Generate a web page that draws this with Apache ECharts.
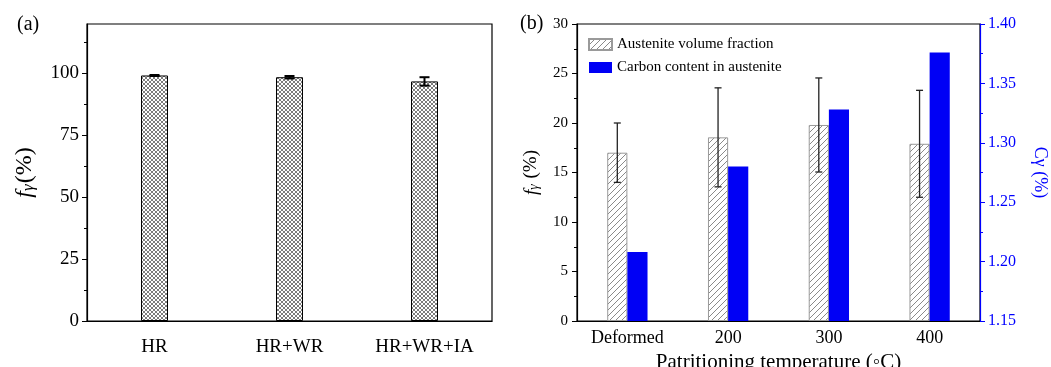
<!DOCTYPE html>
<html>
<head>
<meta charset="utf-8">
<script src="https://cdn.jsdelivr.net/npm/echarts@6/dist/echarts.min.js"></script>
<style>
  html, body { margin: 0; padding: 0; background: #fff; }
  #chart { width: 1051px; height: 367px; }
</style>
</head>
<body>
<div id="chart"></div>
<script>
// panel (a)
const routesA = ["HR", "HR+WR", "HR+WR+IA"];
const fractionA = [99.2, 98.5, 96.8];
const fractionErrA = [0.2, 0.5, 1.7];
const yTicksA = [0, 25, 50, 75, 100];
const yMinorTicksA = [12.5, 37.5, 62.5, 87.5, 112.5];

// panel (b)
const temps = ["Deformed", "200", "300", "400"];
const fractionB = [17.0, 18.55, 19.8, 17.9];
const fractionErrB = [3.0, 5.0, 4.75, 5.4];
const carbonB = [1.208, 1.280, 1.328, 1.376];

const serif = '"Liberation Serif", "Times New Roman", serif';
const blue = "#0000ff";

function crossHatch() {
    const c = document.createElement("canvas");
    c.width = 4; c.height = 4;
    const g = c.getContext("2d");
    g.fillStyle = "#fff";
    g.fillRect(0, 0, 4, 4);
    g.strokeStyle = "#6e6e6e";
    g.lineWidth = 0.9;
    g.beginPath();
    g.moveTo(0, 0); g.lineTo(4, 4);
    g.moveTo(4, 0); g.lineTo(0, 4);
    g.stroke();
    return c;
}

function diagHatch() {
    const c = document.createElement("canvas");
    c.width = 6; c.height = 6;
    const g = c.getContext("2d");
    g.fillStyle = "#fff";
    g.fillRect(0, 0, 6, 6);
    g.strokeStyle = "#8a8a8a";
    g.lineWidth = 1;
    g.beginPath();
    g.moveTo(0, 6); g.lineTo(6, 0);
    g.moveTo(-1, 1); g.lineTo(1, -1);
    g.moveTo(5, 7); g.lineTo(7, 5);
    g.stroke();
    return c;
}

// error bar drawn through the axes; shift is fraction of band width
function errorBar(shift, capHalf, width, color) {
    return function (params, api) {
        const i = api.value(0), v = api.value(1), e = api.value(2);
        const dx = api.size([1, 0])[0] * shift;
        const hi = api.coord([i, v + e]);
        const lo = api.coord([i, v - e]);
        const x = hi[0] + dx;
        const style = { stroke: color, lineWidth: width };
        return {
            type: "group",
            children: [
                { type: "line", shape: { x1: x, y1: hi[1], x2: x, y2: lo[1] }, style },
                { type: "line", shape: { x1: x - capHalf, y1: hi[1], x2: x + capHalf, y2: hi[1] }, style },
                { type: "line", shape: { x1: x - capHalf, y1: lo[1], x2: x + capHalf, y2: lo[1] }, style }
            ]
        };
    };
}

const chart = echarts.init(document.getElementById("chart"));

const catAxis = (gridIndex, data, extra) => Object.assign({
    type: "category",
    gridIndex,
    data,
    axisLine: { lineStyle: { color: "#000", width: 1.2 } },
    splitLine: { show: false }
}, extra);

const option = {
    backgroundColor: "#fff",
    animation: false,
    textStyle: { fontFamily: serif },
    graphic: [
        { type: "text", left: 17, top: 15, style: { text: "(a)", font: "20px " + serif, fill: "#000" } },
        { type: "text", left: 520, top: 14, style: { text: "(b)", font: "20px " + serif, fill: "#000" } }
    ],
    grid: [
        { left: 87, top: 24, width: 405, height: 297, show: true, borderColor: "#000", borderWidth: 1.2, backgroundColor: "transparent", outerBoundsMode: "none" },
        { left: 577, top: 24, width: 403, height: 297, show: true, borderColor: "#000", borderWidth: 1.2, backgroundColor: "transparent", outerBoundsMode: "none" }
    ],
    legend: {
        orient: "vertical",
        left: 583,
        top: 32,
        itemWidth: 23,
        itemHeight: 11,
        itemGap: 8,
        icon: "rect",
        data: ["Austenite volume fraction", "Carbon content in austenite"],
        textStyle: { fontFamily: serif, fontSize: 15, color: "#000" }
    },
    xAxis: [
        catAxis(0, routesA, {
            position: "bottom",
            axisTick: { alignWithLabel: true, length: 5, lineStyle: { color: "#000" } },
            axisLabel: { fontFamily: serif, fontSize: 19, color: "#000", margin: 17 }
        }),
        catAxis(1, temps, {
            position: "bottom",
            axisTick: { alignWithLabel: true, length: 5, lineStyle: { color: "#000" } },
            axisLabel: { fontFamily: serif, fontSize: 18, color: "#000", margin: 8 },
            name: "Patritioning temperature (\u25E6C)",
            nameLocation: "middle",
            nameGap: 20,
            nameTextStyle: { fontFamily: serif, fontSize: 21, color: "#000" }
        }),
        catAxis(1, temps, {
            position: "bottom",
            axisLine: { show: false },
            axisTick: { length: 3, lineStyle: { color: "#000" } },
            axisLabel: { show: false }
        }),
        catAxis(1, temps, {
            position: "top",
            axisLine: { show: false },
            axisTick: { inside: true, alignWithLabel: true, length: 6, lineStyle: { color: "#000" } },
            axisLabel: { show: false }
        }),
        catAxis(1, temps, {
            position: "top",
            axisLine: { show: false },
            axisTick: { inside: true, length: 3, lineStyle: { color: "#000" } },
            axisLabel: { show: false }
        })
    ],
    yAxis: [
        {
            type: "value", gridIndex: 0, position: "left", min: 0, max: 120, interval: 25,
            name: "{i|f}{s|\u03B3}{n|(%)}",
            nameLocation: "middle",
            nameGap: 50,
            nameTextStyle: {
                fontFamily: serif, fontSize: 24, color: "#000",
                rich: {
                    i: { fontFamily: serif, fontSize: 24, fontStyle: "italic" },
                    s: { fontFamily: serif, fontSize: 17, fontStyle: "italic", verticalAlign: "bottom", padding: [0, 1, 0, 0] },
                    n: { fontFamily: serif, fontSize: 24 }
                }
            },
            axisLine: { show: true, lineStyle: { color: "#000", width: 1.2 } },
            axisTick: { show: true, length: 5, customValues: yTicksA, lineStyle: { color: "#000" } },
            axisLabel: { fontFamily: serif, fontSize: 19, color: "#000", margin: 8, customValues: yTicksA },
            splitLine: { show: false }
        },
        {
            type: "value", gridIndex: 0, position: "left", min: 0, max: 120,
            axisLine: { show: false },
            axisTick: { show: true, length: 3, customValues: yMinorTicksA, lineStyle: { color: "#000" } },
            axisLabel: { show: false },
            splitLine: { show: false }
        },
        {
            type: "value", gridIndex: 1, position: "left", min: 0, max: 30, interval: 5,
            name: "{i|f}{s|\u03B3}{n| (%)}",
            nameLocation: "middle",
            nameGap: 36,
            nameTextStyle: {
                fontFamily: serif, fontSize: 19, color: "#000",
                rich: {
                    i: { fontFamily: serif, fontSize: 19, fontStyle: "italic" },
                    s: { fontFamily: serif, fontSize: 14, fontStyle: "italic", verticalAlign: "bottom", padding: [0, 1, 0, 0] },
                    n: { fontFamily: serif, fontSize: 19 }
                }
            },
            axisLine: { show: true, lineStyle: { color: "#000", width: 1.2 } },
            axisTick: { show: true, length: 5, lineStyle: { color: "#000" } },
            minorTick: { show: true, splitNumber: 2, length: 3, lineStyle: { color: "#000" } },
            axisLabel: { fontFamily: serif, fontSize: 15, color: "#000", margin: 9 },
            splitLine: { show: false }
        },
        {
            type: "value", gridIndex: 1, position: "right", min: 1.15, max: 1.40, interval: 0.05,
            name: "C\u03B3 (%)",
            nameLocation: "middle",
            nameRotate: -90,
            nameGap: 51,
            nameTextStyle: { fontFamily: serif, fontSize: 18, color: blue },
            axisLine: { show: true, lineStyle: { color: blue, width: 1.2 } },
            axisTick: { show: true, length: 5, lineStyle: { color: blue } },
            minorTick: { show: true, splitNumber: 2, length: 3, lineStyle: { color: blue } },
            axisLabel: { fontFamily: serif, fontSize: 16, color: blue, margin: 8, formatter: v => v.toFixed(2) },
            splitLine: { show: false }
        }
    ],
    series: [
        {
            type: "bar",
            xAxisIndex: 0, yAxisIndex: 0,
            barWidth: "20%",
            data: fractionA,
            itemStyle: { color: { image: crossHatch(), repeat: "repeat" }, borderColor: "#000", borderWidth: 1 }
        },
        {
            type: "custom",
            xAxisIndex: 0, yAxisIndex: 0,
            renderItem: errorBar(0, 5, 2, "#000"),
            encode: { x: 0, y: 1 },
            data: routesA.map((_, i) => [i, fractionA[i], fractionErrA[i]]),
            z: 10
        },
        {
            name: "Austenite volume fraction",
            type: "bar",
            xAxisIndex: 1, yAxisIndex: 2,
            barWidth: "20%",
            barGap: "0%",
            data: fractionB,
            itemStyle: { color: { image: diagHatch(), repeat: "repeat" }, borderColor: "#9a9a9a", borderWidth: 1 }
        },
        {
            name: "Carbon content in austenite",
            type: "bar",
            xAxisIndex: 1, yAxisIndex: 3,
            barWidth: "20%",
            barGap: "0%",
            data: carbonB,
            itemStyle: { color: "#0000f5" }
        },
        {
            type: "custom",
            xAxisIndex: 1, yAxisIndex: 2,
            renderItem: errorBar(-0.1, 3.5, 1.3, "#222"),
            encode: { x: 0, y: 1 },
            data: temps.map((_, i) => [i, fractionB[i], fractionErrB[i]]),
            z: 10
        }
    ]
};

chart.setOption(option);
</script>
</body>
</html>
